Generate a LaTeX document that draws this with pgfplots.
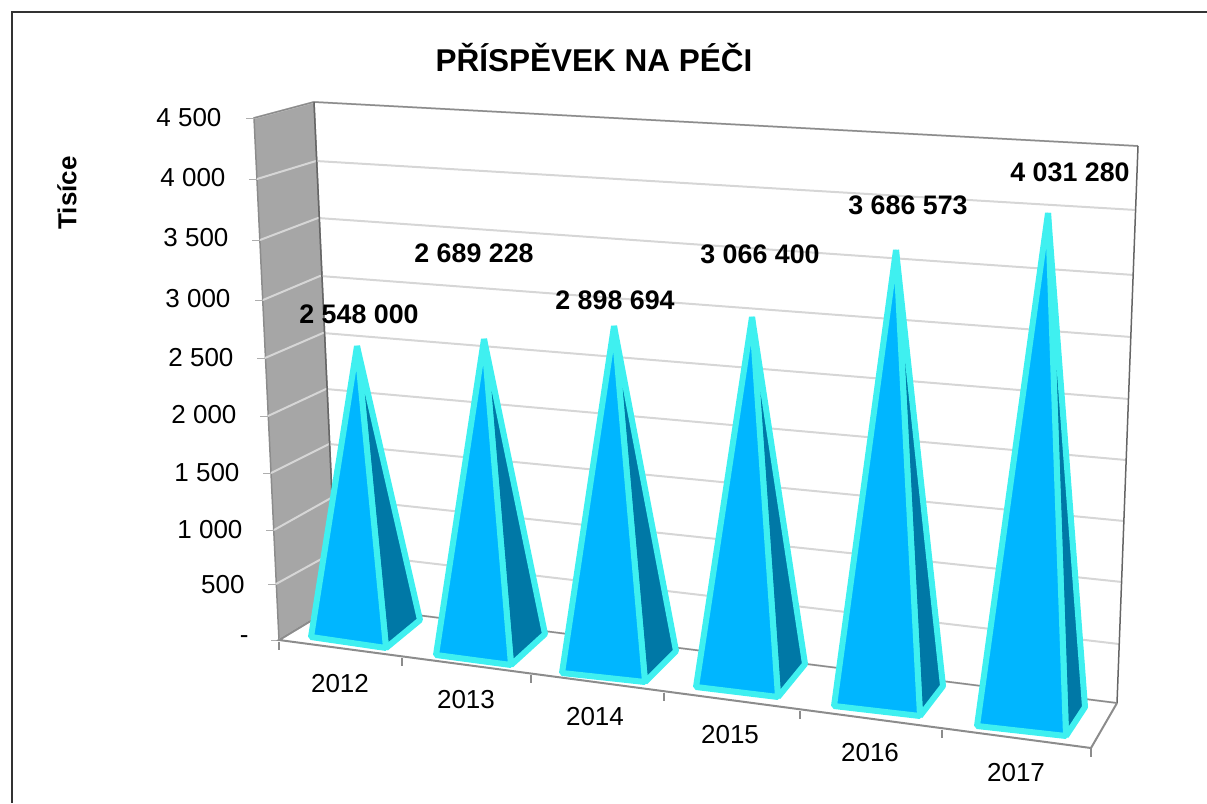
\documentclass[border=0pt]{standalone}
\usepackage{fontspec}
\setmainfont{Liberation Sans}
\usepackage{pgfplots}
\pgfplotsset{compat=1.18}
\definecolor{wallc}{HTML}{A6A6A6}
\definecolor{gridc}{HTML}{D6D6D6}
\definecolor{edgec}{HTML}{8C8C8C}
\definecolor{frontc}{HTML}{00B6FF}
\definecolor{sidec}{HTML}{0078A6}
\definecolor{cyanc}{HTML}{3FF0F0}
\newcommand{\gl}[6]{\addplot[gridc,line width=2pt] coordinates {(#1,#2)(#3,#4)(#5,#6)};
 \addplot[edgec!70,line width=1pt] coordinates {(#1,#2)(#1-8,#2)};}
% fl: front left, fr: front right, rb: rear right, ap: apex
\newcommand{\pyr}[8]{%
 \addplot[fill=sidec,draw=cyanc,line width=6pt,line join=bevel] coordinates {(#3,#4)(#5,#6)(#7,#8)} -- cycle;
 \addplot[fill=frontc,draw=cyanc,line width=6pt,line join=bevel] coordinates {(#1,#2)(#3,#4)(#7,#8)} -- cycle;}
\newcommand{\lab}[4][]{\node[font=\fontsize{26}{30}\selectfont,#1] at (axis cs:#2,#3) {#4};}
\begin{document}
\begin{tikzpicture}
\begin{axis}[
  width=1207pt,height=803pt,scale only axis,
  xmin=0,xmax=1207,ymin=0,ymax=803,y dir=reverse,
  axis lines=none,clip=true]
\addplot[draw=none,forget plot] coordinates {(0,0)(1207,803)};
% chart frame
\addplot[black!80,line width=2pt] coordinates {(1207,11.5)(11.5,11.5)(11.5,803)};
% side wall
\addplot[fill=wallc,draw=edgec,line width=1.5pt] coordinates {(254,118)(314,102)(337,605)(279,640)} -- cycle;
% gridlines: front of side wall, back corner, right end
\gl{254}{118}{314}{102}{1138}{146}
\gl{257}{179}{316}{161}{1136}{210}
\gl{260}{240}{318}{218}{1134}{275}
\gl{263}{300}{320}{276}{1131}{337}
\gl{265}{358}{323}{333}{1129}{399}
\gl{268}{416}{326}{389}{1126}{460}
\gl{271}{473}{329}{444}{1124}{521}
\gl{274}{530}{331}{498}{1122}{582}
\gl{276}{584}{334}{552}{1119}{644}
\gl{279}{640}{337}{605}{1117}{703}
% edges
\addplot[edgec,line width=1.5pt] coordinates {(254,118)(314,102)(1138,146)};
\addplot[black!60,line width=1.5pt] coordinates {(314,102)(337,605)};
\addplot[black!60,line width=1.5pt] coordinates {(1138,146)(1117,703)};
\addplot[edgec,line width=1.5pt] coordinates {(337,605)(1117,703)};
\addplot[edgec,line width=2pt] coordinates {(337,605)(279,640)(1091,748)(1117,703)};
% ticks under floor
\addplot[edgec,line width=1.5pt] coordinates {(279,642)(279,650)};
\addplot[edgec,line width=1.5pt] coordinates {(402,658)(402,666)};
\addplot[edgec,line width=1.5pt] coordinates {(531,675)(531,683)};
\addplot[edgec,line width=1.5pt] coordinates {(664,693)(664,701)};
\addplot[edgec,line width=1.5pt] coordinates {(800,711)(800,719)};
\addplot[edgec,line width=1.5pt] coordinates {(942,730)(942,738)};
\addplot[edgec,line width=1.5pt] coordinates {(1091,748)(1091,757)};
% pyramids
\pyr{311}{637}{386}{648}{420}{620}{357}{346}
\pyr{436}{655}{511}{665}{545}{634}{484}{339}
\pyr{562}{673}{645}{682}{676}{651}{614}{326}
\pyr{696}{687}{778}{697}{805}{664}{752}{317}
\pyr{834}{706}{920}{716}{943}{686}{896}{250}
\pyr{977}{726}{1066}{736}{1085}{707}{1048}{213}
% texts
\node[font=\bfseries\fontsize{31.5}{36}\selectfont] at (axis cs:594,58) {PŘÍSPĚVEK NA PÉČI};
\node[font=\bfseries\fontsize{26}{30}\selectfont,rotate=90] at (axis cs:67,193) {Tisíce};
\lab[anchor=east]{225}{118}{4 500}
\lab[anchor=east]{229}{178}{4 000}
\lab[anchor=east]{232}{238}{3 500}
\lab[anchor=east]{234}{299}{3 000}
\lab[anchor=east]{237}{358}{2 500}
\lab[anchor=east]{240}{415}{2 000}
\lab[anchor=east]{243}{473}{1 500}
\lab[anchor=east]{246}{530}{1 000}
\lab[anchor=east]{248}{585}{500}
\lab[anchor=east]{252}{640}{-}
\lab{340}{684}{2012}
\lab{466}{700}{2013}
\lab{595}{717}{2014}
\lab{730}{735}{2015}
\lab{870}{753}{2016}
\lab{1016}{773}{2017}
\lab[font=\bfseries\fontsize{26.8}{30}\selectfont]{359}{314}{2 548 000}
\lab[font=\bfseries\fontsize{26.8}{30}\selectfont]{474}{253}{2 689 228}
\lab[font=\bfseries\fontsize{26.8}{30}\selectfont]{615}{300}{2 898 694}
\lab[font=\bfseries\fontsize{26.8}{30}\selectfont]{760}{254}{3 066 400}
\lab[font=\bfseries\fontsize{26.8}{30}\selectfont]{908}{205}{3 686 573}
\lab[font=\bfseries\fontsize{26.8}{30}\selectfont]{1070}{172}{4 031 280}
\end{axis}
\end{tikzpicture}
\end{document}
